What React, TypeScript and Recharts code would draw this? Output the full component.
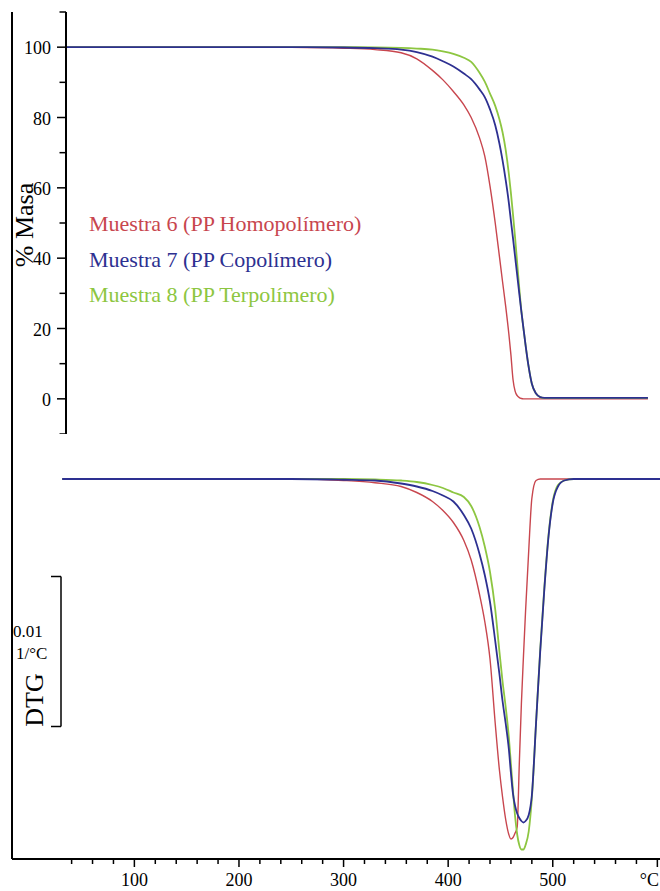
import React from 'react';
import { LineChart, Line, XAxis, YAxis, Legend, ReferenceLine } from 'recharts';

// ---- Series identity ----
const SERIES_KEYS = ['m6', 'm7', 'm8'];
const SERIES_NAMES = [
  'Muestra 6 (PP Homopolímero)',
  'Muestra 7 (PP Copolímero)',
  'Muestra 8 (PP Terpolímero)',
];
const SERIES_COLORS = ['#c8464e', '#2d3091', '#8dc641'];
const SERIES_WIDTHS = [1.4, 1.8, 1.8];
// drawing order (last one on top)
const DRAW_ORDER = [0, 2, 1];

// ---- TG: residual mass (%) vs temperature (°C) ----
const TG_TEMPS = [
  35, 100, 200, 250, 300, 330, 355, 370, 385, 395,
  405, 415, 422, 430, 435, 440, 445, 449, 452, 455,
  458, 460, 462, 464, 466, 468, 470, 472, 474, 477,
  480, 484, 488, 492, 500, 520, 550, 591,
];
const TG_M6 = [
  100, 100, 100, 99.95, 99.7, 99.3, 98.4, 96.7, 93.4, 90.7,
  87.4, 83.6, 80.0, 74.2, 69.0, 60.5, 50.0, 40.5, 33.3, 26.3,
  18.5, 12.5, 5.5, 2.2, 0.9, 0.35, 0.1, 0, 0, 0,
  0, 0, 0, 0, 0, 0, 0, 0,
];
const TG_M7 = [
  100, 100, 100, 100, 99.9, 99.7, 99.3, 98.6, 97.3, 96.0,
  94.5, 92.5, 90.9, 88.0, 85.8, 82.3, 77.8, 72.6, 67.8, 62.2,
  55.8, 50.6, 45.6, 40.4, 35.2, 29.9, 24.8, 20.0, 15.3, 9.0,
  4.3, 1.5, 0.5, 0.3, 0.3, 0.3, 0.3, 0.3,
];
const TG_M8 = [
  100, 100, 100, 100, 100, 99.95, 99.8, 99.6, 99.3, 98.8,
  98.1, 97.0, 95.8, 92.7, 90.2, 86.8, 83.3, 79.5, 75.8, 70.8,
  64.0, 58.5, 52.4, 45.8, 38.6, 31.4, 25.0, 20.0, 15.3, 9.0,
  4.3, 1.5, 0.5, 0.2, 0.2, 0.2, 0.2, 0.2,
];

// ---- DTG: derivative of mass (1/°C) vs temperature (°C) ----
const DTG_TEMPS = [
  31, 100, 200, 250, 300, 330, 355, 370, 385, 395,
  405, 415, 422, 430, 435, 440, 445, 449, 452, 455,
  458, 460, 462, 464, 466, 468, 470, 472, 474, 477,
  480, 484, 488, 492, 496, 500, 505, 511, 520, 550,
  605,
];
const DTG_M6 = [
  0, 0, 0, 0, -0.0001, -0.00025, -0.0005, -0.0009, -0.0015, -0.0021,
  -0.0029, -0.0041, -0.0054, -0.0077, -0.0095, -0.012, -0.0163, -0.0194, -0.0212, -0.0227,
  -0.0237, -0.024, -0.0239, -0.0236, -0.0232, -0.019, -0.015, -0.0118, -0.0088, -0.0048,
  -0.0013, -0.0001, 0, 0, 0, 0, 0, 0, 0, 0,
  0,
];
const DTG_M7 = [
  0, 0, 0, 0, -0.00005, -0.0001, -0.0003, -0.0005, -0.0008, -0.0011,
  -0.0015, -0.0024, -0.0033, -0.005, -0.0064, -0.0082, -0.0108, -0.013, -0.0148, -0.0163,
  -0.018, -0.0196, -0.021, -0.0218, -0.0223, -0.0226, -0.0228, -0.0229, -0.0228, -0.0224,
  -0.0211, -0.0163, -0.0115, -0.0073, -0.0038, -0.0016, -0.0005, -0.0001, 0, 0,
  0,
];
const DTG_M8 = [
  0, 0, 0, 0, 0, -0.00003, -0.0001, -0.0002, -0.0004, -0.0006,
  -0.0009, -0.0012, -0.0018, -0.0032, -0.0045, -0.0062, -0.0087, -0.0115, -0.0135, -0.0152,
  -0.0172, -0.019, -0.0208, -0.0225, -0.0237, -0.0244, -0.0247, -0.0247, -0.0244, -0.0235,
  -0.0213, -0.0163, -0.0114, -0.0072, -0.0037, -0.0015, -0.0004, -0.0001, 0, 0,
  0,
];

// ---- Axis ticks ----
const TG_TICKS = [-10, 0, 10, 20, 30, 40, 50, 60, 70, 80, 90, 100, 110];
const X_TICKS = [
  40, 60, 80, 100, 120, 140, 160, 180, 200, 220, 240, 260, 280, 300,
  320, 340, 360, 380, 400, 420, 440, 460, 480, 500, 520, 540, 560, 580, 600,
];
const X_UNIT = '°C';
const DTG_SCALE = 0.01;
const DTG_SCALE_TEXT = '0.01';
const DTG_UNIT_TEXT = '1/°C';

// ---- Layout ----
const W = 660;
const H = 891;
const FRAME_LEFT = 12;
const FRAME_TOP = 12;
const FRAME_BOTTOM = 859;
const PLOT_RIGHT = 672;
const TG_AXIS_X = 66;
const TG_AXIS_BOTTOM = 434;
const DTG_BASE_Y = 479;
const DTG_PX_PER_UNIT = 15000;

const T_MIN = -17;
const T_MAX = 614;
const DEG_PER_PX = (T_MAX - T_MIN) / (PLOT_RIGHT - FRAME_LEFT);
const TG_T_MIN = T_MIN + (TG_AXIS_X - FRAME_LEFT) * DEG_PER_PX;
const DTG_DOMAIN = [
  -(FRAME_BOTTOM - DTG_BASE_Y) / DTG_PX_PER_UNIT,
  (DTG_BASE_Y - FRAME_TOP) / DTG_PX_PER_UNIT,
];
const BAR_T = T_MIN + (61 - FRAME_LEFT) * DEG_PER_PX;
const BAR_TICK_T = T_MIN + (51 - FRAME_LEFT) * DEG_PER_PX;
const BAR_TOP = -0.0065;
const BAR_BOTTOM = BAR_TOP - DTG_SCALE;

const FONT = "'Liberation Serif', 'Times New Roman', Times, serif";

const tgRows = TG_TEMPS.map((t, i) => ({ t, m6: TG_M6[i], m7: TG_M7[i], m8: TG_M8[i] }));
const dtgRows = DTG_TEMPS.map((t, i) => ({ t, m6: DTG_M6[i], m7: DTG_M7[i], m8: DTG_M8[i] }));

const TgTick = (props: any) => {
  const { y, payload } = props;
  const v = payload.value;
  const major = v % 20 === 0;
  return (
    <g>
      <line x1={TG_AXIS_X - (major ? 9 : 6.5)} x2={TG_AXIS_X} y1={y} y2={y} stroke="#000" strokeWidth={1.5} />
      {major && v >= 0 && v <= 100 && (
        <text x={TG_AXIS_X - 15} y={y + 7} textAnchor="end" fontFamily={FONT} fontSize={18} fill="#000">
          {v}
        </text>
      )}
    </g>
  );
};

const XTick = (props: any) => {
  const { x, payload } = props;
  const v = payload.value;
  const major = v % 100 === 0;
  const isUnit = v === 600;
  return (
    <g>
      <line x1={x} x2={x} y1={FRAME_BOTTOM} y2={FRAME_BOTTOM + (major ? 8 : 5)} stroke="#000" strokeWidth={1.5} />
      {major && (
        <text
          x={isUnit ? W - 1 : x}
          y={FRAME_BOTTOM + 27}
          textAnchor={isUnit ? 'end' : 'middle'}
          fontFamily={FONT}
          fontSize={18}
          fill="#000"
        >
          {isUnit ? X_UNIT : v}
        </text>
      )}
    </g>
  );
};

const MassTitle = () => (
  <text
    x={33}
    y={225}
    transform="rotate(-90 33 225)"
    textAnchor="middle"
    fontFamily={FONT}
    fontSize={26}
    fill="#000"
  >
    % Masa
  </text>
);

const DtgNotes = () => (
  <g fontFamily={FONT} fill="#000">
    <text x={13} y={637} fontSize={17}>{DTG_SCALE_TEXT}</text>
    <text x={16} y={659} fontSize={17}>{DTG_UNIT_TEXT}</text>
    <text x={43} y={700} transform="rotate(-90 43 700)" textAnchor="middle" fontSize={26}>
      DTG
    </text>
  </g>
);

const LegendContent = (props: any) => {
  const items = (props.payload || []).slice().sort(
    (a: any, b: any) => SERIES_NAMES.indexOf(a.value) - SERIES_NAMES.indexOf(b.value)
  );
  return (
    <div style={{ fontFamily: FONT, fontSize: 22, lineHeight: '35.5px' }}>
      {items.map((e: any) => (
        <div key={e.value} style={{ color: e.color, whiteSpace: 'nowrap' }}>
          {e.value}
        </div>
      ))}
    </div>
  );
};

const axisLine = { stroke: '#000', strokeWidth: 2 };

export default function App() {
  return (
    <div
      style={{
        position: 'absolute',
        left: 0,
        top: 0,
        width: W,
        height: H,
        overflow: 'hidden',
        background: '#fff',
      }}
    >
      {/* Derivative (DTG) panel, also carries the outer frame and the temperature axis */}
      <div style={{ position: 'absolute', left: 0, top: 0 }}>
        <LineChart
          width={PLOT_RIGHT + 8}
          height={H}
          data={dtgRows}
          margin={{ top: FRAME_TOP, right: 8, left: 0, bottom: 0 }}
        >
          <XAxis
            dataKey="t"
            type="number"
            domain={[T_MIN, T_MAX]}
            allowDataOverflow
            ticks={X_TICKS}
            interval={0}
            height={H - FRAME_BOTTOM}
            tickSize={0}
            tickMargin={0}
            tickLine={false}
            axisLine={axisLine}
            tick={XTick}
          />
          <XAxis
            xAxisId="frame"
            orientation="top"
            type="number"
            domain={[T_MIN, T_MAX]}
            allowDataOverflow
            height={0}
            tick={false}
            tickLine={false}
            axisLine={axisLine}
          />
          <YAxis
            type="number"
            domain={DTG_DOMAIN}
            allowDataOverflow
            width={FRAME_LEFT}
            tick={false}
            tickLine={false}
            axisLine={axisLine}
            label={{ content: DtgNotes }}
          />
          <ReferenceLine
            segment={[{ x: BAR_T, y: BAR_TOP }, { x: BAR_T, y: BAR_BOTTOM }]}
            stroke="#000"
            strokeWidth={1.5}
          />
          <ReferenceLine
            segment={[{ x: BAR_TICK_T, y: BAR_TOP }, { x: BAR_T, y: BAR_TOP }]}
            stroke="#000"
            strokeWidth={1.5}
          />
          <ReferenceLine
            segment={[{ x: BAR_TICK_T, y: BAR_BOTTOM }, { x: BAR_T, y: BAR_BOTTOM }]}
            stroke="#000"
            strokeWidth={1.5}
          />
          {DRAW_ORDER.map((i) => (
            <Line
              key={SERIES_KEYS[i]}
              dataKey={SERIES_KEYS[i]}
              name={SERIES_NAMES[i]}
              type="monotone"
              stroke={SERIES_COLORS[i]}
              strokeWidth={SERIES_WIDTHS[i]}
              dot={false}
              activeDot={false}
              isAnimationActive={false}
            />
          ))}
        </LineChart>
      </div>

      {/* Mass (TG) panel */}
      <div style={{ position: 'absolute', left: 0, top: 0 }}>
        <LineChart
          width={PLOT_RIGHT + 8}
          height={TG_AXIS_BOTTOM}
          data={tgRows}
          margin={{ top: FRAME_TOP, right: 8, left: FRAME_LEFT, bottom: 0 }}
        >
          <XAxis dataKey="t" type="number" domain={[TG_T_MIN, T_MAX]} allowDataOverflow hide />
          <YAxis
            type="number"
            domain={[-10, 110]}
            allowDataOverflow
            ticks={TG_TICKS}
            interval={0}
            width={TG_AXIS_X - FRAME_LEFT}
            tickSize={0}
            tickMargin={0}
            tickLine={false}
            axisLine={axisLine}
            tick={TgTick}
            label={{ content: MassTitle }}
          />
          <Legend
            layout="vertical"
            align="center"
            verticalAlign="middle"
            wrapperStyle={{ left: 89, top: 206, width: 330 }}
            content={LegendContent}
          />
          {DRAW_ORDER.map((i) => (
            <Line
              key={SERIES_KEYS[i]}
              dataKey={SERIES_KEYS[i]}
              name={SERIES_NAMES[i]}
              type="monotone"
              stroke={SERIES_COLORS[i]}
              strokeWidth={SERIES_WIDTHS[i]}
              dot={false}
              activeDot={false}
              isAnimationActive={false}
            />
          ))}
        </LineChart>
      </div>
    </div>
  );
}
